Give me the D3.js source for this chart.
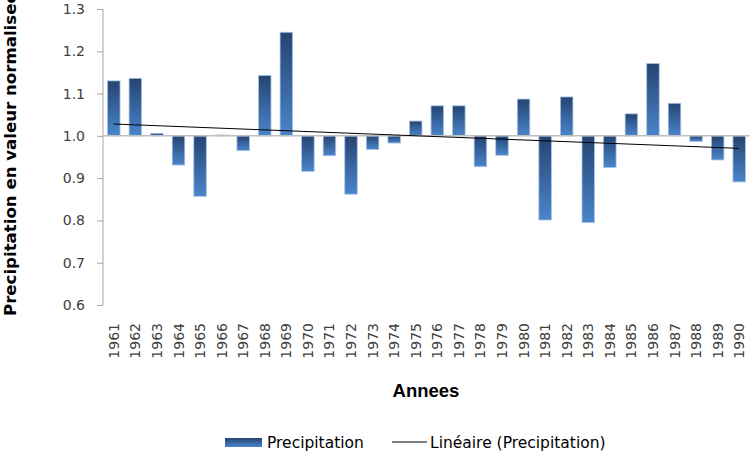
<!DOCTYPE html>
<html><head><meta charset="utf-8">
<script src="https://cdn.jsdelivr.net/npm/d3@7"></script>
<style>body{margin:0;background:#fff}svg{display:block}</style>
</head><body>
<svg id="c" width="750" height="452"></svg>
<script>
const years = ["1961","1962","1963","1964","1965","1966","1967","1968","1969","1970","1971","1972","1973","1974","1975","1976","1977","1978","1979","1980","1981","1982","1983","1984","1985","1986","1987","1988","1989","1990"];
const precipitation = [1.130,1.136,1.006,0.931,0.857,1.002,0.965,1.143,1.245,0.916,0.953,0.862,0.968,0.983,1.035,1.071,1.071,0.927,0.954,1.087,0.801,1.092,0.795,0.925,1.052,1.171,1.077,0.987,0.943,0.891];
const yTicks = [0.6,0.7,0.8,0.9,1.0,1.1,1.2,1.3];
const baseline = 1.0;
const yTitle = "Precipitation en valeur normalisee";
const xTitle = "Annees";
const legendLabels = ["Precipitation","Linéaire (Precipitation)"];

const svg = d3.select("#c");
const x = d3.scaleBand().domain(years).range([103, 750]).paddingInner(0.42).paddingOuter(0.21);
const y = d3.scaleLinear().domain([0.6, 1.3]).range([305, 9]);

const defs = svg.append("defs");
const g = defs.append("linearGradient").attr("id","bg").attr("x1",0).attr("y1",0).attr("x2",0).attr("y2",1);
g.append("stop").attr("offset","0%").attr("stop-color","#254472");
g.append("stop").attr("offset","100%").attr("stop-color","#4a85cb");

// y axis
const ya = svg.append("g").attr("transform","translate(103,0)")
  .call(d3.axisLeft(y).tickValues(yTicks).tickFormat(d3.format(".1f")).tickSize(6).tickPadding(12));
ya.select(".domain").attr("stroke","#a6a6a6").attr("d","M0,9V305");
ya.selectAll(".tick line").attr("stroke","#a6a6a6");
ya.selectAll("text").attr("font-family","DejaVu Sans").attr("font-size","14px").attr("fill","#404040");

// bars
svg.append("g").selectAll("rect").data(precipitation).join("rect")
  .attr("x",(d,i)=>x(years[i]))
  .attr("width",x.bandwidth())
  .attr("y",d=>y(Math.max(d,baseline)))
  .attr("height",d=>Math.abs(y(d)-y(baseline)))
  .attr("fill","url(#bg)")
  .attr("stroke","#a9c2e2").attr("stroke-width",0.8);

// baseline (category axis at 1.0)
svg.append("line").attr("x1",103).attr("x2",750).attr("y1",y(baseline)).attr("y2",y(baseline))
  .attr("stroke","#bfbfbf").attr("stroke-width",1.5);

// linear trend
const n = precipitation.length;
const xs = d3.range(1,n+1);
const mx = d3.mean(xs), my = d3.mean(precipitation);
const slope = d3.sum(xs,(v,i)=>(v-mx)*(precipitation[i]-my))/d3.sum(xs,v=>(v-mx)*(v-mx));
const icpt = my - slope*mx;
const cx = i => x(years[i]) + x.bandwidth()/2;
svg.append("line").attr("x1",cx(0)).attr("x2",cx(n-1))
  .attr("y1",y(icpt+slope*1)).attr("y2",y(icpt+slope*n))
  .attr("stroke","#000").attr("stroke-width",1);

// x labels
svg.append("g").selectAll("text").data(years).join("text")
  .attr("transform",d=>`translate(${cx(years.indexOf(d))},323) rotate(-90)`)
  .attr("text-anchor","end").attr("dy","0.36em")
  .attr("font-family","DejaVu Sans").attr("font-size","14px")
  .attr("fill","#404040").text(d=>d);

// titles
svg.append("text").attr("x",426).attr("y",397).attr("text-anchor","middle")
  .attr("font-family","Liberation Sans").attr("font-weight","bold").attr("font-size","18.5px")
  .attr("fill","#000").text(xTitle);
svg.append("text").attr("transform","translate(16,316) rotate(-90)").attr("text-anchor","start")
  .attr("font-family","DejaVu Sans").attr("font-weight","bold").attr("font-size","16.6px")
  .attr("fill","#000").text(yTitle);

// legend
svg.append("rect").attr("x",225).attr("y",438).attr("width",37).attr("height",9).attr("fill","url(#bg)");
svg.append("text").attr("x",267).attr("y",448).attr("font-family","DejaVu Sans").attr("font-size","15.5px")
  .attr("fill","#000").text(legendLabels[0]);
svg.append("line").attr("x1",392).attr("x2",427).attr("y1",442).attr("y2",442).attr("stroke","#000").attr("stroke-width",1);
svg.append("text").attr("x",430).attr("y",448).attr("font-family","DejaVu Sans").attr("font-size","15.5px")
  .attr("fill","#000").text(legendLabels[1]);
</script>
</body></html>
